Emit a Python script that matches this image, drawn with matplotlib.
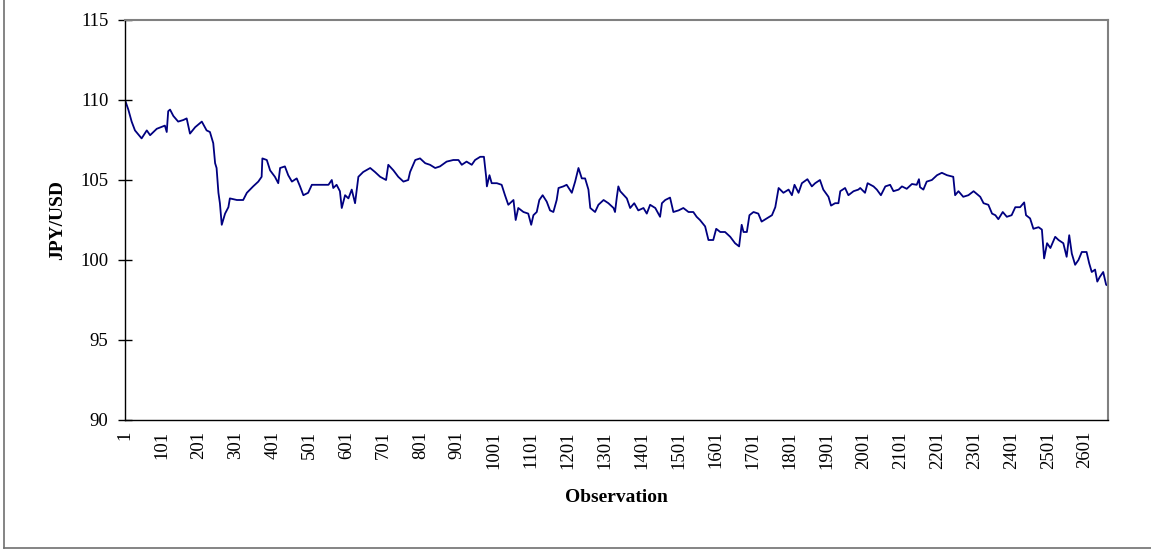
import numpy as np
import matplotlib.pyplot as plt
from matplotlib.lines import Line2D

# -------------------------
# Data
# -------------------------

obs = [
    1, 10, 19, 28, 46, 60, 69, 87, 109, 114, 118, 123, 132, 145, 159, 168, 177, 191,
    209, 222, 231, 240, 245, 249, 254, 258, 263, 272, 281, 285, 304, 321, 331, 348,
    362, 371, 373, 385, 394, 407, 416, 421, 434, 443, 453, 466, 475, 484, 497, 507,
    538, 552, 561, 565, 574, 583, 588, 597, 606, 615, 624, 633, 646, 665,
    678, 692, 708, 714, 728, 741, 755, 768, 773, 787, 800, 814, 827, 841, 854, 872,
    890, 904, 913, 926, 940, 949, 963, 973, 979, 981, 988, 994, 1008, 1021, 1030,
    1039, 1053, 1059, 1066, 1080, 1093, 1101, 1107, 1116, 1123, 1132, 1143, 1152,
    1161, 1170, 1175, 1188, 1197, 1211, 1220, 1229, 1238, 1247, 1256, 1261, 1274,
    1283, 1297, 1310, 1324, 1328, 1333, 1337, 1342,
    1346, 1360, 1369, 1380, 1391, 1405, 1414, 1423, 1437, 1450, 1455, 1464, 1477,
    1486, 1500, 1513, 1527, 1540, 1549, 1558, 1572, 1581, 1594, 1602, 1613, 1626,
    1640, 1653, 1664, 1671, 1676, 1685, 1692, 1703, 1716, 1725, 1739, 1753, 1762,
    1771, 1784, 1798, 1807, 1814, 1825, 1834, 1849, 1861, 1870, 1883, 1892, 1906,
    1913, 1924, 1933, 1938, 1951, 1960, 1974, 1987,
    1992, 2005, 2012, 2028, 2037, 2048, 2060, 2073, 2082, 2096, 2105, 2118, 2132,
    2145, 2151, 2154, 2163, 2172, 2186, 2200, 2213, 2227, 2244, 2249, 2258, 2271,
    2285, 2299, 2317, 2326, 2339, 2349, 2358, 2366, 2378, 2389, 2402, 2412, 2425,
    2436, 2441, 2452, 2461, 2475, 2484, 2490, 2498, 2507, 2520, 2529, 2542, 2551,
    2558, 2565, 2574, 2583, 2592, 2605, 2612, 2619, 2628, 2634, 2641, 2650, 2658, 2663,
]

jpy_usd = [
    110.0, 109.4, 108.65, 108.1, 107.6, 108.1, 107.8, 108.2, 108.4, 108.0, 109.3, 109.4,
    109.0, 108.65, 108.75, 108.85, 107.9, 108.3,
    108.65, 108.1, 108.0, 107.3, 106.05, 105.75, 104.2, 103.55, 102.2, 102.9, 103.3,
    103.85, 103.75, 103.75, 104.2, 104.6,
    104.9, 105.2, 106.35, 106.25, 105.6, 105.2, 104.8, 105.75, 105.85, 105.3, 104.9,
    105.1, 104.6, 104.05, 104.2, 104.7,
    104.7, 104.7, 105.0, 104.5, 104.7, 104.3, 103.25, 104.05, 103.85, 104.4, 103.55,
    105.2, 105.5, 105.75,
    105.5, 105.2, 105.0, 105.95, 105.6, 105.2, 104.9, 105.0, 105.5, 106.25, 106.35,
    106.05, 105.95, 105.75, 105.85, 106.15,
    106.25, 106.25, 105.95, 106.15, 105.95, 106.25, 106.45, 106.45, 105.2, 104.6,
    105.3, 104.8, 104.8, 104.7, 104.05,
    103.45, 103.75, 102.5, 103.25, 103.0, 102.9, 102.2, 102.8, 103.0, 103.75, 104.05,
    103.65, 103.1,
    103.0, 103.75, 104.5, 104.6, 104.7, 104.2, 104.9, 105.75, 105.1, 105.1, 104.4,
    103.25, 103.0,
    103.45, 103.75, 103.55, 103.25, 103.0, 103.95, 104.6, 104.3,
    104.2, 103.85, 103.25, 103.55, 103.1, 103.25, 102.9, 103.45, 103.25, 102.7, 103.55,
    103.75, 103.9,
    103.0, 103.1, 103.25, 103.0, 103.0, 102.7, 102.5, 102.1, 101.25, 101.25, 101.95,
    101.75, 101.75,
    101.45, 101.05, 100.85, 102.2, 101.75, 101.75, 102.8, 103.0, 102.9, 102.4, 102.6,
    102.8, 103.3,
    104.5, 104.2, 104.4, 104.05, 104.7, 104.2, 104.8, 105.05, 104.6, 104.8, 105.0,
    104.4, 103.95,
    103.4, 103.55, 103.55, 104.3, 104.5, 104.05, 104.3, 104.4,
    104.5, 104.2, 104.8, 104.6, 104.4, 104.05, 104.6, 104.7, 104.3, 104.4, 104.6,
    104.45, 104.75,
    104.7, 105.05, 104.55, 104.4, 104.9, 105.0, 105.3, 105.45, 105.3, 105.2, 104.05,
    104.3, 103.95,
    104.05, 104.3, 103.95, 103.55, 103.45, 102.9, 102.8, 102.55, 103.0, 102.7, 102.8,
    103.3, 103.3,
    103.6, 102.8, 102.6, 101.95, 102.05, 101.9, 100.1, 101.05, 100.75, 101.45, 101.25,
    101.05, 100.2,
    101.55, 100.4, 99.7, 100.0, 100.5, 100.5, 99.8, 99.25, 99.4, 98.65, 98.95, 99.25,
    98.45, 98.4,
]

x_ticks = list(range(1, 2602, 100))
y_ticks = [90, 95, 100, 105, 110, 115]

n_obs = 2663

# -------------------------
# Figure
# -------------------------

plt.rcParams["font.family"] = ["Liberation Serif", "DejaVu Serif"]

fig = plt.figure(figsize=(11.51, 5.5), dpi=100)
W, H = 1151, 550
ax = fig.add_axes([125 / W, (H - 420) / H, (1108 - 125) / W, 400 / H])

ax.plot(obs, jpy_usd, color="#000080", linewidth=1.3)

ax.set_xlim(1, n_obs)
ax.set_ylim(90, 115)
ax.set_xticks(x_ticks)
ax.set_xticklabels([str(t) for t in x_ticks], rotation=90, fontsize=13.5)
ax.set_yticks(y_ticks)
ax.set_yticklabels([str(t) for t in y_ticks], fontsize=13.5)

ax.tick_params(axis="y", direction="inout", length=10, width=1, pad=7)
ax.tick_params(axis="x", length=0, pad=8)

for side in ["left", "bottom"]:
    ax.spines[side].set_color("black")
    ax.spines[side].set_linewidth(1.0)
for side in ["top", "right"]:
    ax.spines[side].set_color("#808080")
    ax.spines[side].set_linewidth(1.5)

ax.set_ylabel("JPY/USD", fontsize=14, fontweight="bold")
ax.yaxis.set_label_coords(-0.060, 0.5)
ax.set_xlabel("Observation", fontsize=14, fontweight="bold", va="center")
ax.xaxis.set_label_coords(0.5, -0.1925)

# outer chart border (only left and bottom edges show)
fig.add_artist(Line2D([4 / W, 4 / W], [2 / H, 1.0], transform=fig.transFigure,
                      color="#707070", linewidth=1.2))
fig.add_artist(Line2D([4 / W, 1.0], [2 / H, 2 / H], transform=fig.transFigure,
                      color="#707070", linewidth=1.2))

fig.savefig("out.png", dpi=100)
